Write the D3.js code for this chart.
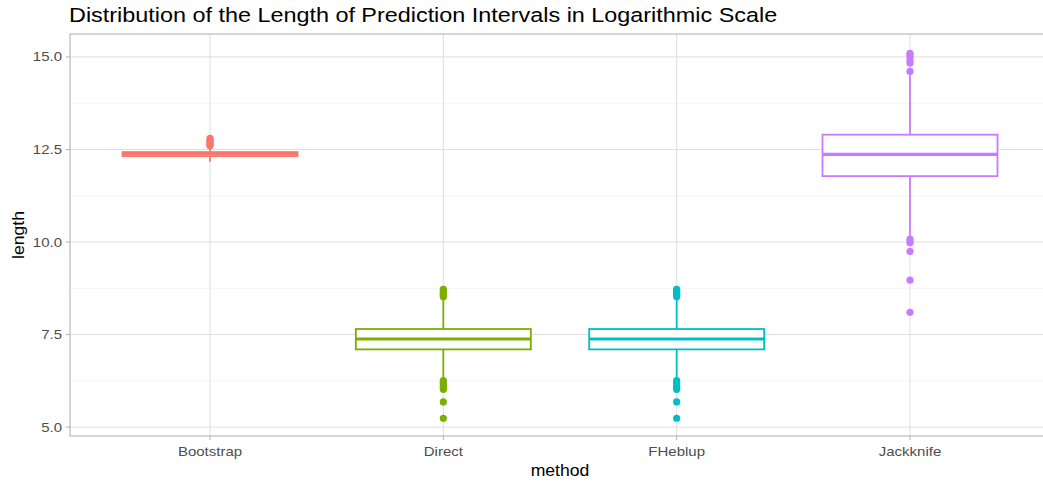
<!DOCTYPE html>
<html>
  <head>
    <meta charset="utf-8" />
    <title>Prediction interval lengths</title>
    <script src="https://d3js.org/d3.v7.min.js"></script>
    <style>
      html,
      body {
        margin: 0;
        overflow: hidden;
        background: #fff;
        font-family: "Liberation Sans", Arial, sans-serif;
      }
      ::-webkit-scrollbar {
        display: none;
      }
      svg {
        display: block;
        position: absolute;
        left: 0;
        top: 0;
      }
      .grid-major {
        stroke: #dedede;
        stroke-width: 1;
      }
      .grid-minor {
        stroke: #ececec;
        stroke-width: 0.6;
      }
      .tick-label {
        fill: #4d4d4d;
        font-size: 12.5px;
      }
    </style>
  </head>
  <body>
    <svg id="chart" width="1043" height="485"></svg>

    <script>
      // Values
      const methods = ["Bootstrap", "Direct", "FHeblup", "Jackknife"];
      const colors = ["#F8766D", "#7CAE00", "#00BFC4", "#C77CFF"];

      const whiskerLow = [12.17, 6.3, 6.3, 10.15];
      const q1 = [12.32, 7.1, 7.1, 11.78];
      const median = [12.38, 7.38, 7.38, 12.37];
      const q3 = [12.43, 7.65, 7.65, 12.9];
      const whiskerHigh = [12.55, 8.48, 8.48, 14.55];

      const outliers = [
        [12.6, 12.64, 12.68, 12.72, 12.76, 12.8],
        [8.52, 8.56, 8.6, 8.64, 8.68, 8.72, 6.26, 6.2, 6.14, 6.08, 6.02, 5.68, 5.24],
        [8.52, 8.56, 8.6, 8.64, 8.68, 8.72, 6.26, 6.2, 6.14, 6.08, 6.02, 5.68, 5.24],
        [14.61, 14.83, 14.9, 15.0, 15.05, 15.1, 10.08, 10.03, 9.98, 9.75, 8.97, 8.1],
      ];

      const yTicks = [5, 7.5, 10, 12.5, 15];
      const yMinor = [6.25, 8.75, 11.25, 13.75];

      const svg = d3.select("#chart");
      const panel = { left: 70, right: 1050, top: 34, bottom: 436 };

      // the reference text is a bit wider than Liberation Sans
      const stretch = (sel, x, y, sx) =>
        sel.attr("transform", `translate(${x},${y}) scale(${sx},1)`);

      // discrete x with 0.6 expansion each side, like ggplot
      const x = d3
        .scalePoint()
        .domain(methods)
        .range([panel.left, panel.right])
        .padding(0.6);
      const step = x.step();
      const boxW = step * 0.75;

      const y = d3
        .scaleLinear()
        .domain([4.76, 15.62])
        .range([panel.bottom, panel.top]);

      const g = svg.append("g");

      // grid
      g.selectAll("line.minor")
        .data(yMinor)
        .join("line")
        .attr("class", "grid-minor")
        .attr("x1", panel.left)
        .attr("x2", panel.right)
        .attr("y1", (d) => y(d))
        .attr("y2", (d) => y(d));

      g.selectAll("line.majory")
        .data(yTicks)
        .join("line")
        .attr("class", "grid-major")
        .attr("x1", panel.left)
        .attr("x2", panel.right)
        .attr("y1", (d) => y(d))
        .attr("y2", (d) => y(d));

      g.selectAll("line.majorx")
        .data(methods)
        .join("line")
        .attr("class", "grid-major")
        .attr("x1", (d) => x(d))
        .attr("x2", (d) => x(d))
        .attr("y1", panel.top)
        .attr("y2", panel.bottom);

      // boxes
      methods.forEach((m, i) => {
        const cx = x(m);
        const col = colors[i];
        const box = g.append("g");

        box
          .append("line")
          .attr("x1", cx)
          .attr("x2", cx)
          .attr("y1", y(whiskerHigh[i]))
          .attr("y2", y(q3[i]))
          .attr("stroke", col)
          .attr("stroke-width", 1.8);
        box
          .append("line")
          .attr("x1", cx)
          .attr("x2", cx)
          .attr("y1", y(q1[i]))
          .attr("y2", y(whiskerLow[i]))
          .attr("stroke", col)
          .attr("stroke-width", 1.8);

        box
          .append("rect")
          .attr("x", cx - boxW / 2)
          .attr("width", boxW)
          .attr("y", y(q3[i]))
          .attr("height", y(q1[i]) - y(q3[i]))
          .attr("fill", "#fff")
          .attr("stroke", col)
          .attr("stroke-width", 1.8);

        box
          .append("line")
          .attr("x1", cx - boxW / 2)
          .attr("x2", cx + boxW / 2)
          .attr("y1", y(median[i]))
          .attr("y2", y(median[i]))
          .attr("stroke", col)
          .attr("stroke-width", 3.2);

        box
          .selectAll("circle")
          .data(outliers[i])
          .join("circle")
          .attr("cx", cx)
          .attr("cy", (d) => y(d))
          .attr("r", 3.6)
          .attr("fill", col);
      });

      // panel border
      g.append("rect")
        .attr("x", panel.left)
        .attr("y", panel.top)
        .attr("width", panel.right - panel.left)
        .attr("height", panel.bottom - panel.top)
        .attr("fill", "none")
        .attr("stroke", "#b3b3b3")
        .attr("stroke-width", 1.1);

      // axes
      const yAxis = svg.append("g");
      yAxis
        .selectAll("line")
        .data(yTicks)
        .join("line")
        .attr("x1", panel.left - 4)
        .attr("x2", panel.left)
        .attr("y1", (d) => y(d))
        .attr("y2", (d) => y(d))
        .attr("stroke", "#b3b3b3");
      yAxis
        .selectAll("text")
        .data(yTicks)
        .join("text")
        .attr("class", "tick-label")
        .attr("dy", "0.36em")
        .attr("text-anchor", "end")
        .each(function (d) {
          stretch(d3.select(this), panel.left - 8, y(d), 1.2);
        })
        .text((d) => d3.format(".1f")(d));

      const xAxis = svg.append("g");
      xAxis
        .selectAll("line")
        .data(methods)
        .join("line")
        .attr("x1", (d) => x(d))
        .attr("x2", (d) => x(d))
        .attr("y1", panel.bottom)
        .attr("y2", panel.bottom + 4)
        .attr("stroke", "#b3b3b3");
      xAxis
        .selectAll("text")
        .data(methods)
        .join("text")
        .attr("class", "tick-label")
        .attr("text-anchor", "middle")
        .each(function (d) {
          stretch(d3.select(this), x(d), panel.bottom + 20, 1.2);
        })
        .text((d) => d);

      // titles
      svg
        .append("text")
        .attr("text-anchor", "middle")
        .attr("font-size", 16)
        .attr("fill", "#000")
        .call(stretch, (x(methods[0]) + x(methods[3])) / 2, 476, 1.1)
        .text("method");

      svg
        .append("text")
        .attr(
          "transform",
          `translate(24,${(panel.top + panel.bottom) / 2}) rotate(-90) scale(1.1,1)`
        )
        .attr("text-anchor", "middle")
        .attr("font-size", 16)
        .attr("fill", "#000")
        .text("length");

      svg
        .append("text")
        .attr("font-size", 19.5)
        .attr("fill", "#000")
        .call(stretch, 69, 22, 1.2)
        .text("Distribution of the Length of Prediction Intervals in Logarithmic Scale");
    </script>
  </body>
</html>
